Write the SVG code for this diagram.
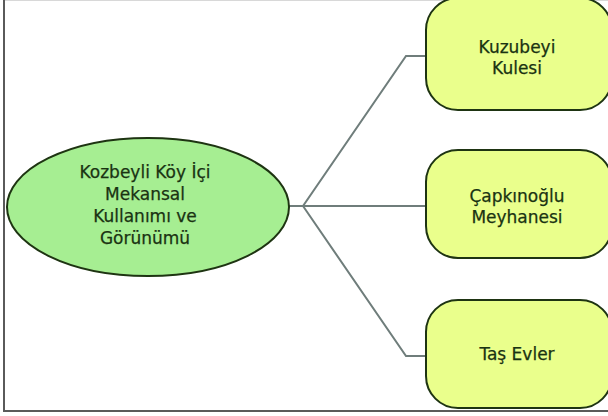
<svg xmlns="http://www.w3.org/2000/svg" width="608" height="416" viewBox="0 0 608 416">
<style>
.node{fill:#eaff8c;stroke:#1e3412;stroke-width:2}
.root{fill:#a6ee92;stroke:#1e3412;stroke-width:2}
.lbl{font-family:"DejaVu Sans",Verdana,sans-serif;font-size:17px;fill:#1a3312;stroke:#1a3312;stroke-width:0.25;text-anchor:middle}
.conn{fill:none;stroke:#6f7d7b;stroke-width:2}
</style>
<rect x="0" y="0" width="608" height="416" fill="#ffffff"/>
<line x1="4" y1="0.5" x2="608" y2="0.5" stroke="#d8d8d8" stroke-width="1"/>
<line x1="4" y1="0" x2="4" y2="412" stroke="#5a5a5a" stroke-width="2"/>
<line x1="3" y1="411" x2="608" y2="411" stroke="#5a5a5a" stroke-width="2"/>
<g id="connectors">
<path class="conn" d="M288 206 H303 L406 56 H426"/>
<path class="conn" d="M303 206 H426"/>
<path class="conn" d="M303 206 L406 356 H426"/>
</g>
<g id="root">
<ellipse class="root" cx="148" cy="207" rx="141" ry="69"/>
<text class="lbl" x="145" y="178">Kozbeyli Köy İçi</text>
<text class="lbl" x="145" y="200">Mekansal</text>
<text class="lbl" x="145" y="222">Kullanımı ve</text>
<text class="lbl" x="145" y="244">Görünümü</text>
</g>
<g id="n1">
<rect class="node" x="426" y="-2" width="186" height="112" rx="32" ry="32"/>
<text class="lbl" x="517" y="53">Kuzubeyi</text>
<text class="lbl" x="517" y="74">Kulesi</text>
</g>
<g id="n2">
<rect class="node" x="426" y="150" width="186" height="108" rx="32" ry="32"/>
<text class="lbl" x="517" y="202">Çapkınoğlu</text>
<text class="lbl" x="517" y="223">Meyhanesi</text>
</g>
<g id="n3">
<rect class="node" x="426" y="300" width="186" height="108" rx="32" ry="32"/>
<text class="lbl" x="517" y="360">Taş Evler</text>
</g>
</svg>
